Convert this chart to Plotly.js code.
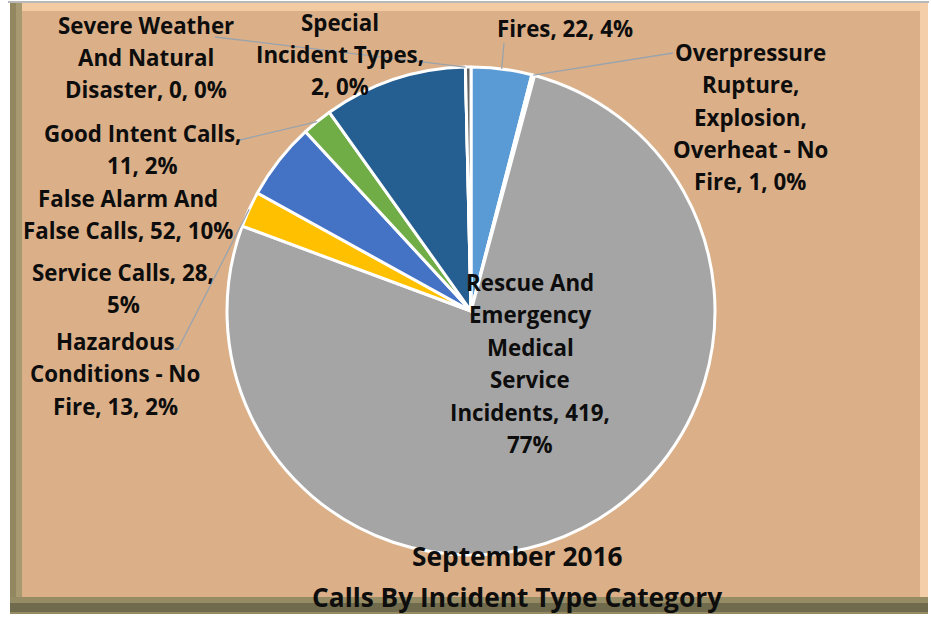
<!DOCTYPE html>
<html>
<head>
<meta charset="utf-8">
<script src="https://cdn.plot.ly/plotly-3.0.1.min.js"></script>
<style>html,body{margin:0;padding:0;background:#fff;}#chart{width:931px;height:618px;}</style>
</head>
<body>
<div id="chart"></div>
<script>
// ---- data ----
const categories = [
  "Fires",
  "Overpressure Rupture, Explosion, Overheat - No Fire",
  "Rescue And Emergency Medical Service Incidents",
  "Hazardous Conditions - No Fire",
  "Service Calls",
  "Good Intent Calls",
  "False Alarm And False Calls",
  "Severe Weather And Natural Disaster",
  "Special Incident Types"
];
const counts = [22, 1, 419, 13, 28, 11, 52, 0, 2];
const percents = [4, 0, 77, 2, 5, 2, 10, 0, 0];
const sliceColors = ["#5B9BD5", "#ED7D31", "#A5A5A5", "#FFC000", "#4472C4", "#70AD47", "#255E91", "#9E480E", "#636363"];
const titleLines = ["September 2016", "Calls By Incident Type Category"];

// ---- layout (pixels) ----
const W = 931, H = 618;
const CX = 471, CY = 311, R = 244;
const LINE_H = 32.5;
const FONT = "'Open Sans', Lato, sans-serif";
const LABEL_SIZE = 22.3;
// per category: label center x, first line y, words per line, leader start (or null)
const labelLayout = [
  {x: 565, y: 28, words: [3], lead: [[504, 43]]},
  {x: 750, y: 52, words: [1, 1, 1, 3, 3], lead: [[673, 53]]},
  {x: 530, y: 282, words: [2, 1, 1, 1, 2, 1], lead: null},
  {x: 115, y: 341, words: [1, 3, 3], lead: [[170, 349], [178, 349]]},
  {x: 123, y: 272, words: [3, 1], lead: null},
  {x: 142, y: 133, words: [3, 2], lead: [[240, 140]]},
  {x: 128, y: 198, words: [3, 4], lead: null},
  {x: 146, y: 25, words: [2, 2, 3], lead: [[215, 37]]},
  {x: 340, y: 22, words: [1, 2, 2], lead: null}
];

const px = v => v / W;
const py = v => 1 - v / H;

const total = counts.reduce((a, b) => a + b, 0);
const annotations = [];
const shapes = [];

// frame / background
shapes.push({type: "rect", xref: "paper", yref: "paper", x0: px(8), x1: px(929), y0: py(1), y1: py(3), fillcolor: "#B8B8B8", line: {width: 0}, layer: "below"});
shapes.push({type: "rect", xref: "paper", yref: "paper", x0: px(10), x1: px(928), y0: py(3), y1: py(614), fillcolor: "#DBB088", line: {width: 0}, layer: "below"});
shapes.push({type: "rect", xref: "paper", yref: "paper", x0: px(10), x1: px(928), y0: py(3), y1: py(11), fillcolor: "#F3CBA3", line: {width: 0}, layer: "below"});
shapes.push({type: "rect", xref: "paper", yref: "paper", x0: px(920), x1: px(928), y0: py(3), y1: py(614), fillcolor: "#F3CEA8", line: {width: 0}, layer: "below"});
shapes.push({type: "rect", xref: "paper", yref: "paper", x0: px(10), x1: px(22), y0: py(3), y1: py(614), fillcolor: "#A89A70", line: {width: 0}, layer: "below"});
shapes.push({type: "rect", xref: "paper", yref: "paper", x0: px(10), x1: px(16), y0: py(3), y1: py(614), fillcolor: "#938760", line: {width: 0}, layer: "below"});
shapes.push({type: "rect", xref: "paper", yref: "paper", x0: px(10), x1: px(928), y0: py(597), y1: py(614), fillcolor: "#958B64", line: {width: 0}, layer: "below"});
shapes.push({type: "rect", xref: "paper", yref: "paper", x0: px(10), x1: px(928), y0: py(603), y1: py(612), fillcolor: "#6F6B4C", line: {width: 0}, layer: "below"});

let cum = 0;
counts.forEach((v, i) => {
  const mid = (cum + v / 2) / total * 2 * Math.PI;
  cum += v;
  const ex = CX + R * Math.sin(mid);
  const ey = CY - R * Math.cos(mid);
  const L = labelLayout[i];
  const text = categories[i] + ", " + v + ", " + percents[i] + "%";
  const words = text.split(" ");
  let k = 0;
  L.words.forEach((n, li) => {
    const line = words.slice(k, k + n).join(" ");
    k += n;
    annotations.push({
      xref: "paper", yref: "paper", x: px(L.x), y: py(L.y + li * LINE_H),
      xanchor: "center", yanchor: "middle", showarrow: false,
      text: line, font: {family: FONT, size: LABEL_SIZE, color: "#0D0D0D", weight: 700}
    });
  });
  if (L.lead) {
    let path = "M" + px(L.lead[0][0]) + "," + py(L.lead[0][1]);
    for (let j = 1; j < L.lead.length; j++) path += " L" + px(L.lead[j][0]) + "," + py(L.lead[j][1]);
    path += " L" + px(ex) + "," + py(ey);
    shapes.push({type: "path", xref: "paper", yref: "paper", path: path, line: {color: "#9AA3AD", width: 1.3}, layer: "above"});
  }
});

titleLines.forEach((t, i) => {
  annotations.push({
    xref: "paper", yref: "paper", x: px(517), y: py(556 + i * 41),
    xanchor: "center", yanchor: "middle", showarrow: false,
    text: t, font: {family: FONT, size: 26.3, color: "#0D0D0D", weight: 700}
  });
});

const trace = {
  type: "pie",
  labels: categories,
  values: counts,
  sort: false,
  direction: "clockwise",
  rotation: 0,
  marker: {colors: sliceColors, line: {color: "#FFFFFF", width: 3}},
  textinfo: "none",
  hoverinfo: "label+value+percent",
  domain: {x: [px(CX - R), px(CX + R)], y: [py(CY + R), py(CY - R)]},
  showlegend: false
};

Plotly.newPlot("chart", [trace], {
  width: W, height: H,
  margin: {l: 0, r: 0, t: 0, b: 0},
  paper_bgcolor: "#FFFFFF",
  showlegend: false,
  shapes: shapes,
  annotations: annotations
}, {displayModeBar: false, staticPlot: true});
</script>
</body>
</html>
